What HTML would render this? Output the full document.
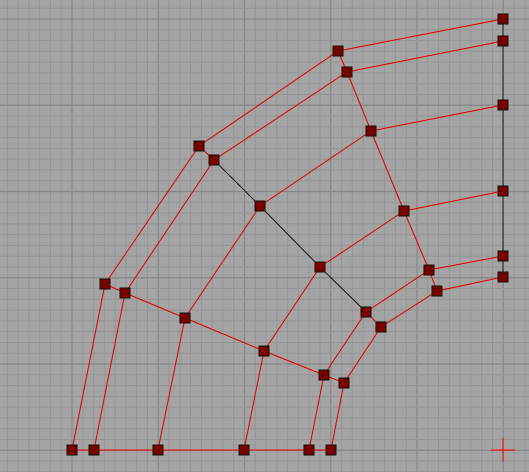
<!DOCTYPE html>
<html><head><meta charset="utf-8"><style>
html,body{margin:0;padding:0;background:#a4a4a4;}
svg{display:block;}
</style></head><body>
<svg id="c" width="529" height="472" xmlns="http://www.w3.org/2000/svg"></svg>
<script>
const nodeNames=["A0","B0","C0","D0","E0","F0","R1","R2","R3","R4","R5","R6","P1","P2","P3","P4","P5","P6","Q1","Q2","R","S","T","T2","U1","U2","V","W","X","X2"];
const nodeX=[72,94,158,244,309,331,503,503,503,503,503,503,338,347,371,404,429,437,199,214,260,320,366,381,105,125,185,264,324,344];
const nodeY=[450,450,450,450,450,450,19,41,105,191,256,277,51,72,131,211,270,291,146,160,206,267,312,327,284,293,318,351,375,383];
const redEdges=[["A0","F0"],["A0","U1"],["U1","Q1"],["Q1","P1"],["P1","R1"],["B0","U2"],["U2","Q2"],["Q2","P2"],["P2","R2"],["P1","P2"],["Q1","Q2"],["U1","U2"],["P2","P3"],["P3","P4"],["P4","P5"],["P5","P6"],["P3","R3"],["P4","R4"],["P5","R5"],["P6","R6"],["R","P3"],["R","V"],["S","P4"],["S","W"],["U2","V"],["V","W"],["W","X"],["X","X2"],["X","T"],["X2","T2"],["T","T2"],["T","P5"],["T2","P6"],["X","E0"],["X2","F0"],["W","D0"],["V","C0"]];
const blackEdges=[["R1","R6"],["Q2","R"],["R","S"],["S","T"]];
const svg=document.getElementById('c');const NS="http://www.w3.org/2000/svg";
function mk(t,a){const e=document.createElementNS(NS,t);for(const k in a)e.setAttribute(k,a[k]);svg.appendChild(e);return e;}
const sp=86.25/8;
for(let i=-10;i<60;i++){const x=72+i*sp;if(x<-1||x>530)continue;const major=i%8===0;
 const l=mk('line',{x1:x,y1:0,x2:x,y2:472,stroke:major?'#868686':'#959595','stroke-width':major?1.2:1});
 }
for(let i=-10;i<60;i++){const y=19+i*sp;if(y<-1||y>473)continue;const major=i%8===0;
 const l=mk('line',{x1:0,y1:y,x2:529,y2:y,stroke:major?'#868686':'#959595','stroke-width':major?1.2:1});
 }
const c1=mk('line',{x1:491,y1:450,x2:515,y2:450,stroke:'#f00','stroke-width':1});

const c2=mk('line',{x1:503,y1:438,x2:503,y2:462,stroke:'#f00','stroke-width':1});

function pos(n){const i=nodeNames.indexOf(n);return [nodeX[i],nodeY[i]];}
function edge(e,col){const a=pos(e[0]),b=pos(e[1]);const l=mk('line',{x1:a[0],y1:a[1],x2:b[0],y2:b[1],stroke:col,'stroke-width':1});
 }
redEdges.forEach(e=>edge(e,'#e00000'));
blackEdges.forEach(e=>edge(e,'#1a1a1a'));
nodeNames.forEach((n,i)=>{const r=mk('rect',{x:nodeX[i]-5,y:nodeY[i]-5,width:10,height:10,fill:'#7a0000',stroke:'#111','stroke-width':1});
 });
</script>
</body></html>
